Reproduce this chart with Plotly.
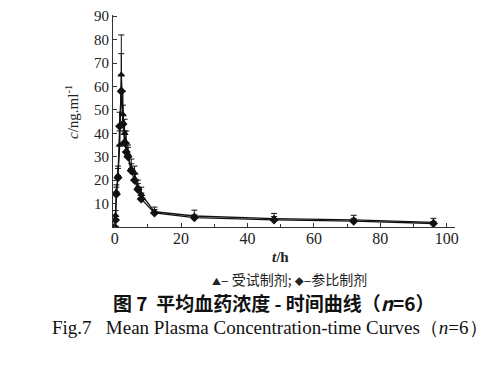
import plotly.graph_objects as go

# time points (h)
t_hours = [0, 0.25, 0.5, 1, 1.5, 2, 2.5, 3, 3.5, 4, 5, 6, 7, 8, 12, 24, 48, 72, 96]
# test formulation (triangles)
test_conc = [0, 5, 15, 22, 35, 65, 48, 40, 36, 31, 25, 23, 17, 14, 6.5, 4.7, 3.6, 3.0, 2.0]
test_err = [0, 2, 3, 4, 6, 17, 10, 6, 5, 4, 4, 3, 3, 3, 2, 2.5, 2.2, 2.0, 1.7]
# reference formulation (diamonds)
ref_conc = [0, 3, 14, 21, 43, 58, 44, 36, 32, 30, 24, 20, 16, 12, 6, 4.0, 3.0, 2.5, 1.5]
ref_err = [0, 1.5, 3, 4, 6, 16, 8, 5, 4, 4, 3, 3, 2.5, 2.5, 1.5, 1.2, 1.5, 1.2, 0.8]

x_ticks = [0, 20, 40, 60, 80, 100]
y_ticks = [10, 20, 30, 40, 50, 60, 70, 80, 90]

fig = go.Figure()
fig.add_trace(go.Scatter(
    x=t_hours, y=test_conc, mode="lines+markers",
    line=dict(color="#111", width=1.3),
    marker=dict(symbol="triangle-up", size=7, color="#111"),
    error_y=dict(type="data", array=test_err, arrayminus=[0]*len(test_err),
                 symmetric=False, color="#111", thickness=1, width=3),
    showlegend=False))
fig.add_trace(go.Scatter(
    x=t_hours, y=ref_conc, mode="lines+markers",
    line=dict(color="#111", width=1.3),
    marker=dict(symbol="diamond", size=7, color="#111"),
    error_y=dict(type="data", array=ref_err, arrayminus=[0]*len(ref_err),
                 symmetric=False, color="#111", thickness=1, width=3),
    showlegend=False))

L, R, T, B = 113, 49, 15, 146
W, H = 504, 373
pw, ph = W - L - R, H - T - B

def px(x):
    return (x - L) / pw

def py(y):
    return (H - B - y) / ph

serif = "Liberation Serif"
cjk = "Noto Sans CJK SC"

def note(text, x, y, font, angle=0):
    return dict(text=text, x=px(x), y=py(y), xref="paper", yref="paper",
                xanchor="center", yanchor="middle", showarrow=False,
                textangle=angle, font=font)

legend_text = ('<span style="font-size:9px">▲</span>– 受试制剂; '
               '<span style="font-size:9px">◆</span>–参比制剂')

fig.update_layout(
    width=W, height=H,
    font=dict(family=serif, size=15, color="#222"),
    margin=dict(l=L, r=R, t=T, b=B, pad=0, autoexpand=False),
    paper_bgcolor="white", plot_bgcolor="white",
    xaxis=dict(range=[-0.5, 102.5], tickvals=x_ticks, ticks="inside", ticklen=4,
               tickcolor="#333", showline=True, linecolor="#333", linewidth=1,
               showgrid=False, zeroline=False, automargin=False, ticklabelstandoff=-3,
               tickfont=dict(family=serif, size=16, color="#222"),
               minor=dict(tickvals=[10, 30, 50, 70, 90], ticks="inside", ticklen=3, tickcolor="#333")),
    yaxis=dict(range=[0, 90.5], tickvals=y_ticks, ticks="inside", ticklen=4,
               tickcolor="#333", showline=True, linecolor="#333", linewidth=1,
               showgrid=False, zeroline=False, automargin=False,
               tickfont=dict(family=serif, size=15, color="#222")),
    annotations=[
        note("<i>c</i>/ng.ml<sup>-1</sup>", 72, 112, dict(family=serif, size=15, color="#222"), angle=-90),
        note("<b><i>t</i>/h</b>", 280, 257, dict(family=serif, size=15, color="#222")),
        note(legend_text, 289, 279, dict(family=cjk, size=14, color="#222")),
        note("<b>图 7  平均血药浓度 - 时间曲线（<i>n</i>=6）</b>", 273, 302, dict(family=cjk, size=19, color="#111")),
        note("Fig.7   Mean Plasma Concentration-time Curves（<i>n</i>=6）", 270, 327, dict(family=serif, size=19, color="#111")),
    ],
)

fig.write_html("out.html", config={"displayModeBar": False},
               post_script="document.body.style.margin='0';")
